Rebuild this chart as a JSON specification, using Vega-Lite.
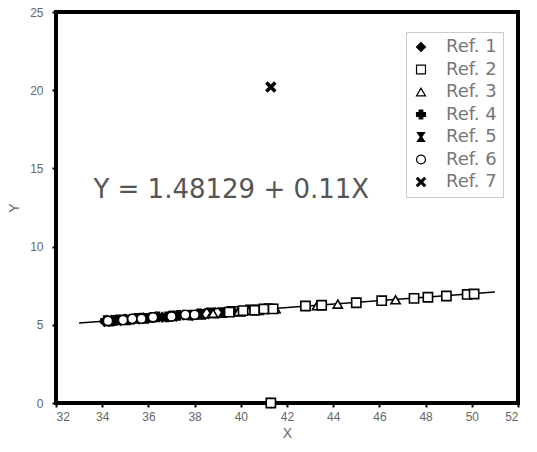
{
  "$schema": "https://vega.github.io/schema/vega-lite/v6.json",
  "width": 462,
  "height": 391,
  "autosize": {"type": "none"},
  "padding": {"left": 56, "top": 12, "right": 19, "bottom": 49},
  "background": "white",
  "config": {
    "view": {"stroke": "black", "strokeWidth": 4},
    "font": "Liberation Sans",
    "axis": {
      "domain": false,
      "grid": false,
      "tickColor": "black",
      "tickWidth": 2,
      "tickSize": 4,
      "labelColor": "#666",
      "labelFontSize": 12,
      "labelFont": "Liberation Sans",
      "titleColor": "#666",
      "titleFontSize": 14,
      "titleFontWeight": "normal",
      "titleFont": "Liberation Sans"
    }
  },
  "datasets": {
    "pts": [
      {"x": 34.1, "y": 5.21, "ref": "Ref. 1"},
      {"x": 34.2, "y": 5.27, "ref": "Ref. 1"},
      {"x": 34.3, "y": 5.22, "ref": "Ref. 1"},
      {"x": 34.4, "y": 5.29, "ref": "Ref. 1"},
      {"x": 34.5, "y": 5.25, "ref": "Ref. 1"},
      {"x": 34.6, "y": 5.31, "ref": "Ref. 1"},
      {"x": 34.8, "y": 5.28, "ref": "Ref. 1"},
      {"x": 35.0, "y": 5.36, "ref": "Ref. 1"},
      {"x": 35.2, "y": 5.33, "ref": "Ref. 1"},
      {"x": 35.4, "y": 5.40, "ref": "Ref. 1"},
      {"x": 35.6, "y": 5.37, "ref": "Ref. 1"},
      {"x": 35.8, "y": 5.44, "ref": "Ref. 1"},
      {"x": 36.0, "y": 5.42, "ref": "Ref. 1"},
      {"x": 36.3, "y": 5.50, "ref": "Ref. 1"},
      {"x": 36.6, "y": 5.48, "ref": "Ref. 1"},
      {"x": 36.9, "y": 5.56, "ref": "Ref. 1"},
      {"x": 37.2, "y": 5.55, "ref": "Ref. 1"},
      {"x": 37.5, "y": 5.62, "ref": "Ref. 1"},
      {"x": 37.9, "y": 5.60, "ref": "Ref. 1"},
      {"x": 38.1, "y": 5.66, "ref": "Ref. 1"},
      {"x": 38.6, "y": 5.70, "ref": "Ref. 1"},
      {"x": 38.9, "y": 5.77, "ref": "Ref. 1"},
      {"x": 39.3, "y": 5.79, "ref": "Ref. 1"},
      {"x": 39.7, "y": 5.84, "ref": "Ref. 1"},
      {"x": 40.2, "y": 5.90, "ref": "Ref. 1"},
      {"x": 40.9, "y": 5.97, "ref": "Ref. 1"},
      {"x": 41.3, "y": 0.0, "ref": "Ref. 1"},
      {"x": 49.9, "y": 6.95, "ref": "Ref. 1"},
      {"x": 34.15, "y": 5.26, "ref": "Ref. 4"},
      {"x": 34.35, "y": 5.24, "ref": "Ref. 4"},
      {"x": 34.55, "y": 5.28, "ref": "Ref. 4"},
      {"x": 34.7, "y": 5.32, "ref": "Ref. 4"},
      {"x": 34.95, "y": 5.33, "ref": "Ref. 4"},
      {"x": 35.1, "y": 5.32, "ref": "Ref. 4"},
      {"x": 35.3, "y": 5.36, "ref": "Ref. 4"},
      {"x": 35.5, "y": 5.41, "ref": "Ref. 4"},
      {"x": 35.7, "y": 5.42, "ref": "Ref. 4"},
      {"x": 35.9, "y": 5.41, "ref": "Ref. 4"},
      {"x": 36.15, "y": 5.47, "ref": "Ref. 4"},
      {"x": 36.4, "y": 5.51, "ref": "Ref. 4"},
      {"x": 36.8, "y": 5.51, "ref": "Ref. 4"},
      {"x": 37.05, "y": 5.57, "ref": "Ref. 4"},
      {"x": 37.3, "y": 5.60, "ref": "Ref. 4"},
      {"x": 37.8, "y": 5.62, "ref": "Ref. 4"},
      {"x": 38.2, "y": 5.70, "ref": "Ref. 4"},
      {"x": 34.25, "y": 5.25, "ref": "Ref. 6"},
      {"x": 34.9, "y": 5.30, "ref": "Ref. 6"},
      {"x": 35.3, "y": 5.38, "ref": "Ref. 6"},
      {"x": 35.7, "y": 5.39, "ref": "Ref. 6"},
      {"x": 36.2, "y": 5.48, "ref": "Ref. 6"},
      {"x": 37.0, "y": 5.53, "ref": "Ref. 6"},
      {"x": 37.6, "y": 5.64, "ref": "Ref. 6"},
      {"x": 38.0, "y": 5.64, "ref": "Ref. 6"},
      {"x": 38.5, "y": 5.73, "ref": "Ref. 6"},
      {"x": 39.0, "y": 5.75, "ref": "Ref. 6"},
      {"x": 38.3, "y": 5.67, "ref": "Ref. 5"},
      {"x": 38.7, "y": 5.76, "ref": "Ref. 5"},
      {"x": 39.2, "y": 5.78, "ref": "Ref. 5"},
      {"x": 39.6, "y": 5.86, "ref": "Ref. 5"},
      {"x": 40.0, "y": 5.86, "ref": "Ref. 5"},
      {"x": 40.4, "y": 5.95, "ref": "Ref. 5"},
      {"x": 40.8, "y": 5.95, "ref": "Ref. 5"},
      {"x": 41.2, "y": 6.03, "ref": "Ref. 5"},
      {"x": 38.8, "y": 5.73, "ref": "Ref. 3"},
      {"x": 39.4, "y": 5.84, "ref": "Ref. 3"},
      {"x": 39.9, "y": 5.85, "ref": "Ref. 3"},
      {"x": 40.3, "y": 5.94, "ref": "Ref. 3"},
      {"x": 40.7, "y": 5.94, "ref": "Ref. 3"},
      {"x": 41.1, "y": 6.02, "ref": "Ref. 3"},
      {"x": 41.5, "y": 6.03, "ref": "Ref. 3"},
      {"x": 43.3, "y": 6.22, "ref": "Ref. 3"},
      {"x": 44.2, "y": 6.32, "ref": "Ref. 3"},
      {"x": 46.7, "y": 6.60, "ref": "Ref. 3"},
      {"x": 39.5, "y": 5.81, "ref": "Ref. 2"},
      {"x": 40.1, "y": 5.91, "ref": "Ref. 2"},
      {"x": 40.6, "y": 5.93, "ref": "Ref. 2"},
      {"x": 41.0, "y": 6.01, "ref": "Ref. 2"},
      {"x": 41.4, "y": 6.02, "ref": "Ref. 2"},
      {"x": 41.3, "y": 0.0, "ref": "Ref. 2"},
      {"x": 42.8, "y": 6.20, "ref": "Ref. 2"},
      {"x": 43.5, "y": 6.25, "ref": "Ref. 2"},
      {"x": 45.0, "y": 6.41, "ref": "Ref. 2"},
      {"x": 46.1, "y": 6.54, "ref": "Ref. 2"},
      {"x": 47.5, "y": 6.69, "ref": "Ref. 2"},
      {"x": 48.1, "y": 6.76, "ref": "Ref. 2"},
      {"x": 48.9, "y": 6.84, "ref": "Ref. 2"},
      {"x": 49.8, "y": 6.94, "ref": "Ref. 2"},
      {"x": 50.1, "y": 6.97, "ref": "Ref. 2"},
      {"x": 41.3, "y": 20.2, "ref": "Ref. 7"}
    ],
    "fit": [
      {"x": 33.0, "y": 5.11},
      {"x": 51.0, "y": 7.09}
    ],
    "note": [
      {"x": 33.62, "y": 13.6, "label": "Y = 1.48129 + 0.11X"}
    ]
  },
  "layer": [
    {
      "data": {"name": "fit"},
      "mark": {"type": "line", "color": "black", "strokeWidth": 1.5},
      "encoding": {
        "x": {"field": "x", "type": "quantitative"},
        "y": {"field": "y", "type": "quantitative"}
      }
    },
    {
      "data": {"name": "pts"},
      "mark": {"type": "point", "filled": true, "strokeWidth": 1.6, "size": 85, "opacity": 1},
      "encoding": {
        "x": {
          "field": "x", "type": "quantitative",
          "scale": {"domain": [32, 52], "nice": false, "zero": false},
          "axis": {"values": [32, 34, 36, 38, 40, 42, 44, 46, 48, 50, 52], "title": "X", "labelPadding": 4, "titlePadding": 4}
        },
        "y": {
          "field": "y", "type": "quantitative",
          "scale": {"domain": [0, 25], "nice": false},
          "axis": {"values": [0, 5, 10, 15, 20, 25], "title": "Y", "labelPadding": 9, "titlePadding": 8}
        },
        "shape": {
          "field": "ref", "type": "nominal",
          "scale": {
            "domain": ["Ref. 1", "Ref. 2", "Ref. 3", "Ref. 4", "Ref. 5", "Ref. 6", "Ref. 7"],
            "range": ["diamond", "square", "triangle-up", "cross", "M-0.8,-1L0.8,-1L0.15,0L0.8,1L-0.8,1L-0.15,0Z", "circle", "M-1,-0.7L-0.7,-1L0,-0.3L0.7,-1L1,-0.7L0.3,0L1,0.7L0.7,1L0,0.3L-0.7,1L-1,0.7L-0.3,0Z"]
          },
          "legend": {
            "title": null,
            "orient": "none",
            "legendX": 350,
            "legendY": 20,
            "padding": 6,
            "strokeColor": "#ccc",
            "fillColor": "white",
            "labelFontSize": 18,
            "labelColor": "#777",
            "labelFont": "DejaVu Sans",
            "labelOffset": 16,
            "clipHeight": 18,
            "rowPadding": 4.5,
            "symbolSize": 80,
            "symbolStrokeWidth": 1.2
          }
        },
        "fill": {
          "field": "ref", "type": "nominal",
          "scale": {
            "domain": ["Ref. 1", "Ref. 2", "Ref. 3", "Ref. 4", "Ref. 5", "Ref. 6", "Ref. 7"],
            "range": ["black", "white", "white", "black", "black", "white", "black"]
          },
          "legend": null
        },
        "stroke": {
          "field": "ref", "type": "nominal",
          "scale": {
            "domain": ["Ref. 1", "Ref. 2", "Ref. 3", "Ref. 4", "Ref. 5", "Ref. 6", "Ref. 7"],
            "range": ["black", "black", "black", "black", "black", "black", "black"]
          },
          "legend": null
        }
      }
    },
    {
      "data": {"name": "note"},
      "mark": {"type": "text", "align": "left", "baseline": "middle", "fontSize": 26, "color": "#555", "font": "DejaVu Sans"},
      "encoding": {
        "x": {"field": "x", "type": "quantitative"},
        "y": {"field": "y", "type": "quantitative"},
        "text": {"field": "label"}
      }
    }
  ]
}
